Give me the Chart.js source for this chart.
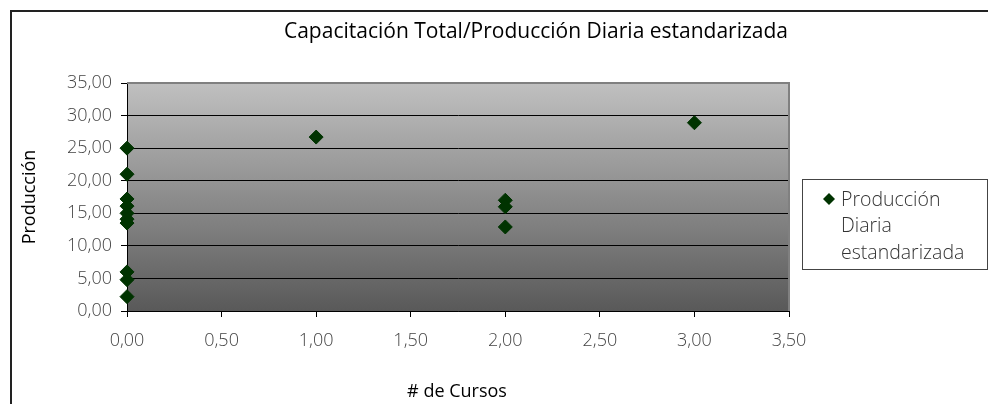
<!DOCTYPE html>
<html>
<head>
<meta charset="utf-8">
<script src="https://cdn.jsdelivr.net/npm/chart.js@4"></script>
<style>
  html, body { margin: 0; padding: 0; background: #fff; }
  #wrap { width: 988px; height: 404px; }
</style>
</head>
<body>
<div id="wrap"><canvas id="chart" width="988" height="404"></canvas></div>
<script>
const chartTitle = 'Capacitación Total/Producción Diaria estandarizada';
const seriesLabel = ['Producción', 'Diaria', 'estandarizada'];
const xTitle = '# de Cursos';
const yTitle = 'Producción';

// # de cursos vs producción diaria
const cursos = [0, 0, 0, 0, 0, 0, 0, 0, 0, 0, 1, 2, 2, 2, 3];
const produccion = [25.0, 21.0, 17.2, 16.1, 15.0, 14.1, 13.5, 6.0, 4.8, 2.2, 26.7, 17.0, 16.0, 12.9, 28.9];

const xTicks = [0, 0.5, 1, 1.5, 2, 2.5, 3, 3.5];
const yTicks = [0, 5, 10, 15, 20, 25, 30, 35];

const FONT = '"Open Sans", "DejaVu Sans", sans-serif';
const MARK = '#003300';
const fmt = (v) => Number(v).toFixed(2).replace('.', ',');

const decor = {
  id: 'decor',
  beforeDraw(chart) {
    const { ctx, chartArea: a } = chart;
    ctx.save();
    ctx.fillStyle = '#fff';
    ctx.fillRect(0, 0, chart.width, chart.height);
    const g = ctx.createLinearGradient(0, a.top, 0, a.bottom);
    g.addColorStop(0, '#c0c0c0');
    g.addColorStop(1, '#595959');
    ctx.fillStyle = g;
    ctx.fillRect(a.left, a.top, a.right - a.left, a.bottom - a.top);
    ctx.restore();
  },
  afterDraw(chart) {
    const { ctx, chartArea: a } = chart;
    ctx.save();
    // outer frame
    ctx.strokeStyle = '#222';
    ctx.lineWidth = 2;
    ctx.beginPath();
    ctx.moveTo(11, chart.height);
    ctx.lineTo(11, 11);
    ctx.lineTo(chart.width, 11);
    ctx.stroke();

    // plot border top / right
    ctx.strokeStyle = '#808080';
    ctx.lineWidth = 2;
    ctx.beginPath();
    ctx.moveTo(a.left, a.top);
    ctx.lineTo(a.right, a.top);
    ctx.lineTo(a.right, a.bottom);
    ctx.stroke();

    // title
    ctx.fillStyle = '#000';
    ctx.textAlign = 'center';
    ctx.textBaseline = 'middle';
    ctx.font = '21px ' + FONT;
    ctx.fillText(chartTitle, 536, 32);

    // axis titles
    ctx.font = '18px ' + FONT;
    ctx.fillText(xTitle, 457, 392);
    ctx.save();
    ctx.translate(30, 197);
    ctx.rotate(-Math.PI / 2);
    ctx.fillText(yTitle, 0, 0);
    ctx.restore();

    // legend
    ctx.fillStyle = '#fff';
    ctx.fillRect(802, 179, 186, 91);
    ctx.strokeStyle = '#444';
    ctx.lineWidth = 1;
    ctx.strokeRect(802.5, 179.5, 185, 90);
    ctx.fillStyle = MARK;
    ctx.beginPath();
    ctx.moveTo(829, 193);
    ctx.lineTo(835, 199);
    ctx.lineTo(829, 205);
    ctx.lineTo(823, 199);
    ctx.closePath();
    ctx.fill();
    ctx.fillStyle = '#333';
    ctx.textAlign = 'left';
    ctx.font = '300 19.5px ' + FONT;
    seriesLabel.forEach((t, i) => ctx.fillText(t, 841, 200 + i * 26.5));
    ctx.restore();
  },
};

new Chart(document.getElementById('chart'), {
  type: 'scatter',
  data: {
    datasets: [
      {
        label: seriesLabel.join(' '),
        data: cursos.map((x, i) => ({ x, y: produccion[i] })),
        pointStyle: 'rectRot',
        pointRadius: 7,
        pointHoverRadius: 7,
        backgroundColor: MARK,
        borderColor: MARK,
        borderWidth: 1,
        clip: false,
      },
    ],
  },
  options: {
    responsive: false,
    animation: false,
    layout: { padding: { left: 12, top: 83, right: 199, bottom: 0 } },
    plugins: { legend: { display: false }, title: { display: false }, tooltip: { enabled: false } },
    scales: {
      x: {
        type: 'linear',
        min: 0,
        max: 3.5,
        afterFit: (s) => { s.height = 93; },
        afterBuildTicks: (s) => { s.ticks = xTicks.map((v) => ({ value: v })); },
        ticks: { callback: fmt, color: '#444', padding: 13, font: { family: FONT, size: 18, weight: '300' } },
        grid: { drawOnChartArea: false, color: '#000', tickLength: 6, tickColor: '#000' },
        border: { color: '#000', width: 1 },
      },
      y: {
        type: 'linear',
        min: 0,
        max: 35,
        afterFit: (s) => { s.width = 115; },
        afterBuildTicks: (s) => { s.ticks = yTicks.map((v) => ({ value: v })); },
        ticks: { callback: fmt, color: '#444', padding: 9, font: { family: FONT, size: 18, weight: '300' } },
        grid: { color: '#000', lineWidth: 1, tickLength: 6, tickColor: '#000' },
        border: { color: '#000', width: 1 },
      },
    },
  },
  plugins: [decor],
});
</script>
</body>
</html>
